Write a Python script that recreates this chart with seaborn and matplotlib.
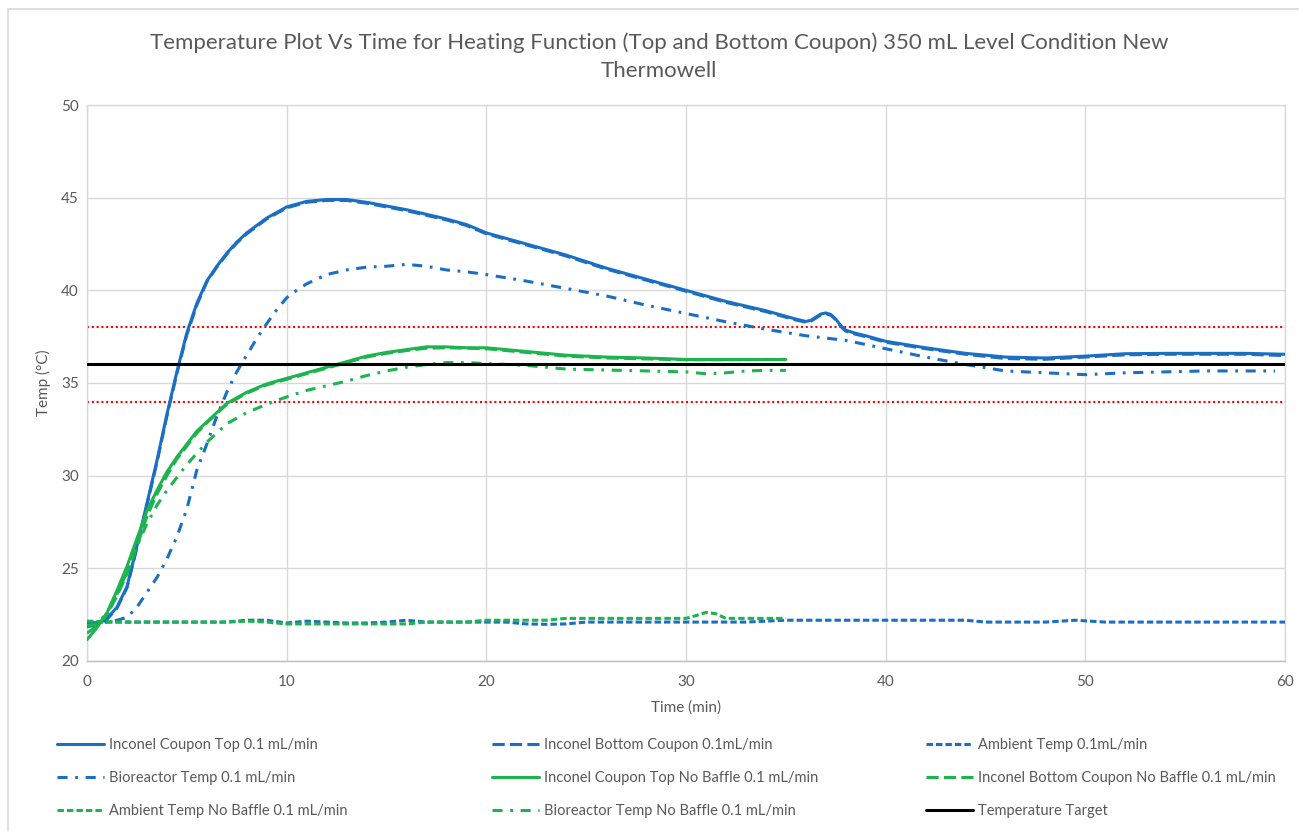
import matplotlib
matplotlib.use("Agg")
import matplotlib.pyplot as plt
import seaborn as sns
import pandas as pd
from matplotlib.lines import Line2D
from matplotlib.patches import Rectangle

# ---- measured series (time in min, temperature in °C) ----
top_t = [0, 0.5, 1, 1.5, 2, 2.5, 3, 3.5, 4, 4.5, 5, 5.5, 6, 6.5, 7, 7.5, 8, 8.5, 9, 10,
         11, 12, 13, 14, 15, 16, 17, 18, 19, 20, 22, 24, 26, 28, 30, 32, 34, 35, 35.5,
         36, 36.25, 36.5, 36.75, 37, 37.25, 37.5, 37.75, 38, 38.5, 39, 40, 42, 44, 46, 48,
         50, 52, 54, 56, 58, 60]
top_v = [21.85, 21.95, 22.3, 22.9, 24.0, 26.2, 28.5, 30.8, 33.3, 35.6, 37.7, 39.3, 40.5, 41.3,
         42.0, 42.6, 43.1, 43.5, 43.9, 44.5, 44.8, 44.9, 44.9, 44.75, 44.55, 44.35, 44.1,
         43.85, 43.55, 43.1, 42.5, 41.9, 41.2, 40.6, 40.0, 39.4, 38.9, 38.6, 38.45, 38.32,
         38.38, 38.55, 38.72, 38.78, 38.7, 38.45, 38.1, 37.85, 37.68, 37.55, 37.25, 36.9,
         36.6, 36.4, 36.35, 36.45, 36.58, 36.6, 36.6, 36.6, 36.55]

bottom_t = top_t
bottom_v = [21.9, 21.95, 22.25, 22.85, 23.95, 26.1, 28.4, 30.7, 33.2, 35.5, 37.6, 39.2, 40.45,
            41.25, 41.95, 42.55, 43.05, 43.45, 43.85, 44.45, 44.75, 44.85, 44.85, 44.7, 44.5,
            44.3, 44.05, 43.8, 43.5, 43.05, 42.45, 41.85, 41.15, 40.55, 39.95, 39.35, 38.85,
            38.55, 38.4, 38.28, 38.34, 38.5, 38.68, 38.74, 38.66, 38.42, 38.05, 37.8, 37.63,
            37.5, 37.2, 36.85, 36.55, 36.32, 36.28, 36.4, 36.52, 36.55, 36.55, 36.55, 36.48]

amb_t = [0, 2, 4, 6, 7, 8, 9, 10, 11, 12, 13, 14, 15, 16, 17, 18, 20, 21, 22, 23, 24, 25,
         28, 30, 32, 33, 34, 35, 38, 40, 44, 45, 48, 49.5, 51, 55, 60]
amb_v = [22.1, 22.1, 22.1, 22.1, 22.1, 22.2, 22.2, 22.05, 22.15, 22.1, 22.05, 22.05, 22.1,
         22.2, 22.1, 22.1, 22.1, 22.1, 22.0, 21.98, 22.0, 22.1, 22.1, 22.1, 22.1, 22.1,
         22.15, 22.2, 22.2, 22.2, 22.2, 22.1, 22.1, 22.2, 22.1, 22.1, 22.1]

bio_t = [0, 1, 1.5, 2, 2.5, 3, 3.5, 4, 4.5, 5, 5.5, 6, 6.5, 7, 7.5, 8, 8.5, 9, 9.5, 10,
         10.5, 11, 11.5, 12, 13, 14, 15, 16, 17, 18, 19, 20, 22, 24, 26, 28, 30, 32, 34,
         36, 38, 40, 42, 44, 46, 48, 50, 52, 54, 56, 58, 59.5]
bio_v = [22.05, 22.1, 22.2, 22.35, 22.9, 23.7, 24.5, 25.5, 26.7, 28.2, 30.3, 31.7, 33.2,
         34.5, 35.6, 36.5, 37.4, 38.2, 38.95, 39.6, 40.0, 40.35, 40.6, 40.85, 41.1, 41.25,
         41.3, 41.4, 41.3, 41.1, 41.0, 40.85, 40.5, 40.1, 39.7, 39.2, 38.75, 38.3, 37.9,
         37.55, 37.3, 36.85, 36.4, 36.0, 35.65, 35.55, 35.45, 35.55, 35.6, 35.65, 35.65,
         35.65]

nb_top_t = [0, 0.5, 1, 1.5, 2, 2.5, 3, 3.5, 4, 4.5, 5, 5.5, 6, 6.5, 7, 7.5, 8, 9, 10, 11,
            12, 13, 14, 15, 16, 17, 18, 19, 20, 21, 22, 23, 24, 25, 26, 28, 30, 32, 34, 35]
nb_top_v = [21.15, 21.8, 22.6, 23.8, 25.1, 26.6, 28.1, 29.2, 30.2, 31.0, 31.7, 32.4, 32.9,
            33.4, 33.9, 34.2, 34.5, 34.95, 35.25, 35.55, 35.85, 36.15, 36.45, 36.65, 36.8,
            36.95, 36.95, 36.9, 36.9, 36.8, 36.7, 36.6, 36.5, 36.45, 36.4, 36.35, 36.27,
            36.27, 36.27, 36.27]

nb_bottom_t = nb_top_t
nb_bottom_v = [21.5, 21.9, 22.5, 23.5, 24.7, 26.2, 27.8, 29.0, 30.0, 30.9, 31.6, 32.3, 32.85,
               33.35, 33.85, 34.15, 34.45, 34.9, 35.2, 35.5, 35.8, 36.1, 36.4, 36.6, 36.75,
               36.88, 36.9, 36.88, 36.85, 36.75, 36.65, 36.55, 36.45, 36.4, 36.35, 36.3,
               36.25, 36.25, 36.27, 36.27]

nb_amb_t = [0, 2, 4, 6, 7, 8, 9, 10, 12, 14, 16, 17, 19, 20, 22, 23, 24, 26, 28, 30, 30.5,
            31, 31.5, 32, 33, 34, 35]
nb_amb_v = [22.15, 22.1, 22.1, 22.1, 22.1, 22.15, 22.1, 22.0, 22.0, 22.0, 22.0, 22.1, 22.1,
            22.2, 22.2, 22.2, 22.3, 22.3, 22.3, 22.3, 22.45, 22.62, 22.55, 22.3, 22.3, 22.3,
            22.3]

nb_bio_t = [0, 0.5, 1, 1.5, 2, 2.5, 3, 3.5, 4, 4.5, 5, 5.5, 6, 6.5, 7, 7.5, 8, 9, 10, 11,
            12, 13, 14, 15, 16, 17, 18, 19, 20, 22, 24, 26, 28, 30, 31, 32, 33, 34, 35]
nb_bio_v = [21.9, 22.0, 22.6, 23.6, 24.8, 26.2, 27.4, 28.4, 29.2, 29.9, 30.6, 31.2, 31.8,
            32.3, 32.8, 33.1, 33.4, 33.85, 34.25, 34.6, 34.85, 35.1, 35.4, 35.65, 35.85,
            36.0, 36.1, 36.1, 36.05, 35.95, 35.75, 35.7, 35.65, 35.6, 35.5, 35.55, 35.65,
            35.68, 35.68]

target_temp = 36
band_low, band_high = 34, 38

labels = ["Inconel Coupon Top 0.1 mL/min",
          "Inconel Bottom Coupon 0.1mL/min",
          "Ambient Temp 0.1mL/min",
          "Bioreactor Temp 0.1 mL/min",
          "Inconel Coupon Top No Baffle 0.1 mL/min",
          "Inconel Bottom Coupon No Baffle 0.1 mL/min",
          "Ambient Temp No Baffle 0.1 mL/min",
          "Bioreactor Temp No Baffle 0.1 mL/min",
          "Temperature Target"]

title = ("Temperature Plot Vs Time for Heating Function (Top and Bottom Coupon) "
         "350 mL Level Condition New\nThermowell")
x_ticks = [0, 10, 20, 30, 40, 50, 60]
y_ticks = [20, 25, 30, 35, 40, 45, 50]

# ---- styling ----
sns.set_style("white")
plt.rcParams["font.family"] = ["Lato", "DejaVu Sans"]
TXT = "#595959"
BLUE = "#1a6fc4"
GREEN = "#1db34f"
LW = 2.2
SOLID = "-"
LONG_DASH = (0, (4.0, 1.7))
SHORT_DASH = (0, (2.1, 1.0))
DASH_DOT = (0, (3.3, 2.5, 0.9, 2.5))

series = [
    (top_t, top_v, BLUE, SOLID),
    (bottom_t, bottom_v, BLUE, LONG_DASH),
    (amb_t, amb_v, BLUE, SHORT_DASH),
    (bio_t, bio_v, BLUE, DASH_DOT),
    (nb_top_t, nb_top_v, GREEN, SOLID),
    (nb_bottom_t, nb_bottom_v, GREEN, LONG_DASH),
    (nb_amb_t, nb_amb_v, GREEN, SHORT_DASH),
    (nb_bio_t, nb_bio_v, GREEN, DASH_DOT),
]

W, H = 1299, 831
fig = plt.figure(figsize=(W / 100, H / 100), dpi=100)
fig.patch.set_facecolor("white")
ax = fig.add_axes([87 / W, (H - 661) / H, 1198 / W, 556 / H])

# reference band and target
for lvl in (band_low, band_high):
    ax.axhline(lvl, color="#ff0000", lw=1.5, linestyle=(0, (1, 1.3)), zorder=2)

handles = []
for (t, v, c, ls), lab in zip(series, labels):
    df = pd.DataFrame({"time": t, "temp": v})
    sns.lineplot(data=df, x="time", y="temp", ax=ax, color=c, lw=LW,
                 linestyle=ls, zorder=3, sort=True, errorbar=None)
    handles.append(Line2D([], [], color=c, lw=LW, linestyle=ls, label=lab))

ax.axhline(target_temp, color="black", lw=2.2, zorder=4)
handles.append(Line2D([], [], color="black", lw=2.2, label=labels[-1]))

ax.set_xlim(0, 60)
ax.set_ylim(20, 50)
ax.set_xticks(x_ticks)
ax.set_yticks(y_ticks)
ax.grid(True, color="#d9d9d9", lw=1.0)
ax.tick_params(axis="both", length=0, labelsize=11, labelcolor=TXT)
ax.tick_params(axis="x", pad=10)
ax.tick_params(axis="y", pad=6)
for side, sp in ax.spines.items():
    sp.set_visible(True)
    sp.set_color("#d9d9d9")
    sp.set_linewidth(1.0)
ax.spines["bottom"].set_color("#bfbfbf")

ax.set_xlabel("Time (min)", fontsize=11, color=TXT)
ax.set_ylabel("Temp (°C)", fontsize=11, color=TXT)
ax.xaxis.set_label_coords(0.5, (661 - 708) / 556)
ax.yaxis.set_label_coords((43 - 87) / 1198, 0.5)
ax.xaxis.label.set_va("center")
ax.yaxis.label.set_va("center")

fig.text(659 / W, 1 - 32 / H, title, ha="center", va="top", fontsize=16,
         color=TXT, linespacing=1.5)

# legend: three columns, filled row by row
col_x = [57, 492, 926]
for ci, x0 in enumerate(col_x):
    hs = handles[ci::3]
    fig.legend(handles=hs, loc="upper left",
               bbox_to_anchor=(x0 / W, 1 - 738 / H), frameon=False,
               borderpad=0, borderaxespad=0, handlelength=3.2,
               handletextpad=0.35, labelspacing=1.3, fontsize=10.5,
               labelcolor=TXT)

# chart border
fig.patches.append(Rectangle((8 / W, -0.01), 1.02, 1 - 9 / H + 0.01,
                             transform=fig.transFigure, fill=False,
                             edgecolor="#d9d9d9", lw=1.2))

fig.savefig("out.png", dpi=100)
